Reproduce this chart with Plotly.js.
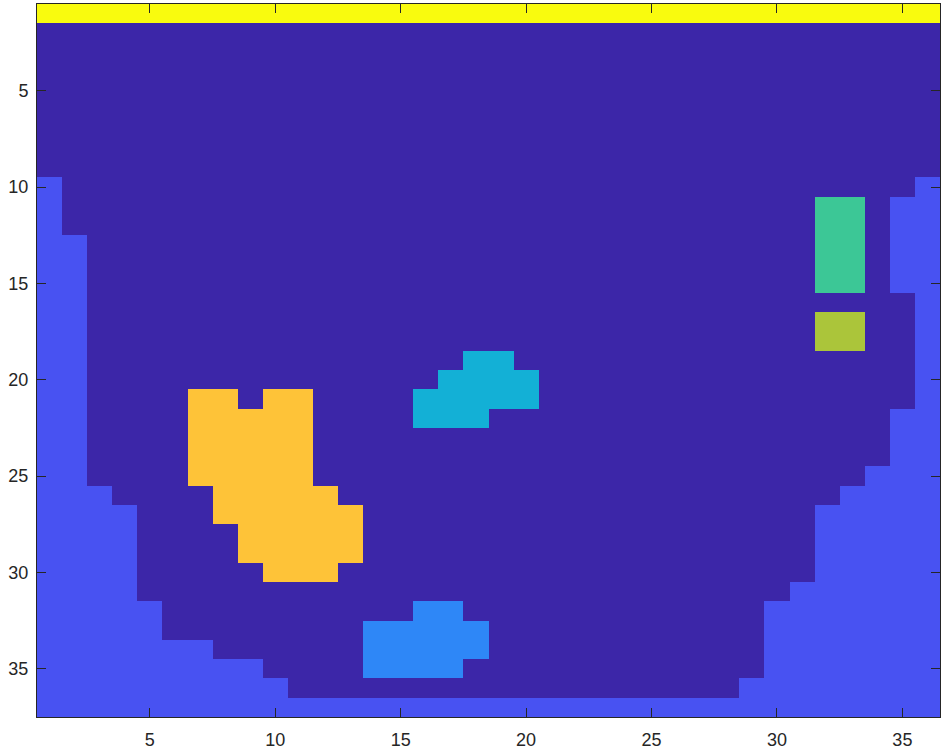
<!DOCTYPE html>
<html>
<head>
<meta charset="utf-8">
<script src="https://cdn.plot.ly/plotly-3.0.1.min.js"></script>
<style>html,body{margin:0;padding:0;background:#fff;}#chart{width:945px;height:751px;}</style>
</head>
<body>
<div id="chart"></div>
<script>
// Category colours (MATLAB parula-like levels), index = cell value
const levelColors = ['#3C26A8', '#4852F2', '#2E87F7', '#13B0D6', '#3CC796', '#ABC53A', '#FEC338', '#F9FB0E'];
const xTicks = [5, 10, 15, 20, 25, 30, 35];
const yTicks = [5, 10, 15, 20, 25, 30, 35];
const nCols = 36;

// Image rows 1..37, run-length encoded as [value, count] across the 36 columns
const rowRuns = [
  [[7,36]],                                                   // 1
  [[0,36]], [[0,36]], [[0,36]], [[0,36]],                     // 2-5
  [[0,36]], [[0,36]], [[0,36]], [[0,36]],                     // 6-9
  [[1,1],[0,34],[1,1]],                                       // 10
  [[1,1],[0,30],[4,2],[0,1],[1,2]],                           // 11
  [[1,1],[0,30],[4,2],[0,1],[1,2]],                           // 12
  [[1,2],[0,29],[4,2],[0,1],[1,2]],                           // 13
  [[1,2],[0,29],[4,2],[0,1],[1,2]],                           // 14
  [[1,2],[0,29],[4,2],[0,1],[1,2]],                           // 15
  [[1,2],[0,33],[1,1]],                                       // 16
  [[1,2],[0,29],[5,2],[0,2],[1,1]],                           // 17
  [[1,2],[0,29],[5,2],[0,2],[1,1]],                           // 18
  [[1,2],[0,15],[3,2],[0,16],[1,1]],                          // 19
  [[1,2],[0,14],[3,4],[0,15],[1,1]],                          // 20
  [[1,2],[0,4],[6,2],[0,1],[6,2],[0,4],[3,5],[0,15],[1,1]],   // 21
  [[1,2],[0,4],[6,5],[0,4],[3,3],[0,16],[1,2]],               // 22
  [[1,2],[0,4],[6,5],[0,23],[1,2]],                           // 23
  [[1,2],[0,4],[6,5],[0,23],[1,2]],                           // 24
  [[1,2],[0,4],[6,5],[0,22],[1,3]],                           // 25
  [[1,3],[0,4],[6,5],[0,20],[1,4]],                           // 26
  [[1,4],[0,3],[6,6],[0,18],[1,5]],                           // 27
  [[1,4],[0,4],[6,5],[0,18],[1,5]],                           // 28
  [[1,4],[0,4],[6,5],[0,18],[1,5]],                           // 29
  [[1,4],[0,5],[6,3],[0,19],[1,5]],                           // 30
  [[1,4],[0,26],[1,6]],                                       // 31
  [[1,5],[0,10],[2,2],[0,12],[1,7]],                          // 32
  [[1,5],[0,8],[2,5],[0,11],[1,7]],                           // 33
  [[1,7],[0,6],[2,5],[0,11],[1,7]],                           // 34
  [[1,9],[0,4],[2,4],[0,12],[1,7]],                           // 35
  [[1,10],[0,18],[1,8]],                                      // 36
  [[1,36]]                                                    // 37
];

const z = rowRuns.map(runs => {
  const row = [];
  runs.forEach(([v, n]) => { for (let i = 0; i < n; i++) row.push(v); });
  if (row.length !== nCols) console.error('bad row length', row.length);
  return row;
});
const xs = Array.from({length: nCols}, (_, i) => i + 1);
const ys = Array.from({length: rowRuns.length}, (_, i) => i + 1);
const maxLevel = levelColors.length - 1;
const colorscale = levelColors.map((c, i) => [i / maxLevel, c]);

const trace = {
  type: 'heatmap', x: xs, y: ys, z: z,
  zmin: 0, zmax: maxLevel, colorscale: colorscale,
  showscale: false, hoverinfo: 'skip', xgap: 0, ygap: 0
};

const axisCommon = {
  showgrid: false, zeroline: false, showline: true, mirror: 'ticks',
  linecolor: '#262626', linewidth: 1,
  ticks: 'inside', ticklen: 9, tickwidth: 1, tickcolor: '#262626',
  tickfont: {family: 'Liberation Sans, Arial, sans-serif', size: 18, color: '#262626'}
};

const layout = {
  width: 945, height: 751,
  margin: {l: 37, r: 5, t: 4, b: 34},
  paper_bgcolor: '#ffffff', plot_bgcolor: '#ffffff',
  xaxis: Object.assign({}, axisCommon, {range: [0.5, 36.5], tickvals: xTicks, ticktext: xTicks.map(String), ticklabelstandoff: 6}),
  yaxis: Object.assign({}, axisCommon, {range: [37.5, 0.5], tickvals: yTicks, ticktext: yTicks.map(String), ticklabelstandoff: 4})
};

Plotly.newPlot('chart', [trace], layout, {displayModeBar: false, staticPlot: true});
</script>
</body>
</html>
